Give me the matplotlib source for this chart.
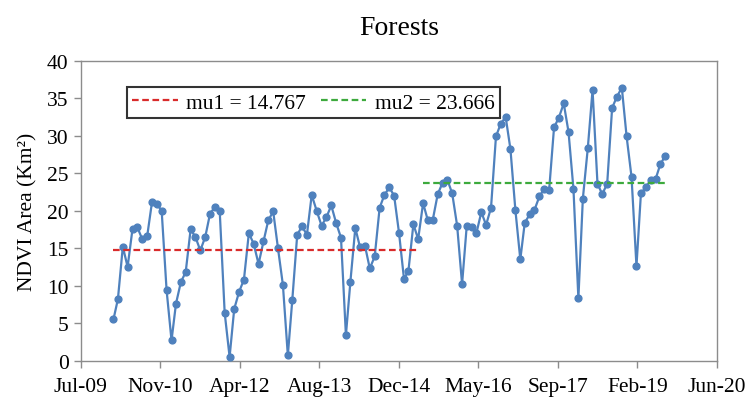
import matplotlib
matplotlib.use("Agg")
import matplotlib.pyplot as plt
import matplotlib.dates as mdates
import pandas as pd
import numpy as np

plt.rcParams['font.family'] = ['Liberation Serif', 'DejaVu Serif']

# monthly NDVI forest area, Feb 2010 .. Aug 2019
start_month = "2010-02-01"
area = [
    5.5, 8.2, 15.2, 12.5, 17.6, 17.8, 16.2, 16.6, 21.1, 20.9, 20.0, 9.4, 2.7, 7.6, 10.5,
    11.8, 17.5, 16.5, 14.7, 16.5, 19.6, 20.5, 19.9, 6.4, 0.5, 6.9, 9.2, 10.8, 17.0, 15.6, 12.9, 15.9,
    18.7, 19.9, 15.0, 10.1, 0.7, 8.1, 16.8, 17.9, 16.8, 22.1, 20.0, 18.0, 19.1, 20.7, 18.4, 16.4,
    3.4, 10.5, 17.7, 15.1, 15.3, 12.3, 13.9, 20.4, 22.1, 23.1, 22.0, 17.0, 10.9, 12.0, 18.2, 16.2,
    21.0, 18.7, 18.8, 22.2, 23.7, 24.1, 22.3, 18.0, 10.2, 17.9, 17.8, 17.0, 19.8, 18.1, 20.4,
    29.9, 31.6, 32.5, 28.2, 20.1, 13.5, 18.4, 19.5, 20.1, 21.9, 22.9, 22.7, 31.1, 32.4, 34.3, 30.5, 22.9, 8.3, 21.6,
    28.3, 36.1, 23.6, 22.2, 23.6, 33.7, 35.2, 36.4, 29.9, 24.5, 12.6, 22.3, 23.1, 24.1, 24.2, 26.2, 27.3,
]
dates = pd.date_range(start_month, periods=len(area), freq="MS")

# change point: first regime is the first 64 months
split = 64
mu1 = 14.767
mu2 = 23.666

fig = plt.figure(figsize=(7.51, 4.02), dpi=100)
ax = fig.add_axes([0.1072, 0.1003, 0.8475, 0.7462])

ax.plot(dates, area, color="#4F81BD", lw=1.6, marker="o", ms=4.9, zorder=3)
ax.plot(dates[:split], [mu1] * split, color="#D92B2B", lw=1.6,
        ls=(0, (3, 1.6)), label="mu1 = 14.767", zorder=4)
ax.plot(dates[split:], [mu2] * (len(area) - split), color="#3DAA3D", lw=1.6,
        ls=(0, (3, 1.6)), label="mu2 = 23.666", zorder=4)

# date axis: 500 day steps
x0 = pd.Timestamp("2009-07-09")
ticks = [x0 + pd.Timedelta(days=500 * i) for i in range(9)]
ax.set_xlim(ticks[0], ticks[-1])
ax.set_xticks(ticks)
ax.xaxis.set_major_formatter(mdates.DateFormatter("%b-%y"))
ax.set_ylim(0, 40)
ax.set_yticks(np.arange(0, 41, 5))

for s in ax.spines.values():
    s.set_color("#8C8C8C")
    s.set_linewidth(1.0)
ax.tick_params(axis="both", colors="#8C8C8C", labelcolor="black",
               labelsize=15.5, length=5, width=1.0, direction="out")
ax.tick_params(axis="x", pad=7)

ax.set_ylabel("NDVI Area (Km²)", fontsize=15.5, labelpad=7)
ax.set_title("Forests", fontsize=20, pad=19)

leg = ax.legend(loc="upper left", bbox_to_anchor=(0.073, 0.912), borderaxespad=0,
                ncol=2, fontsize=15.5, frameon=True, fancybox=False,
                handlelength=2.1, handletextpad=0.4, columnspacing=0.7,
                borderpad=0.25)
leg.get_frame().set_edgecolor("black")
leg.get_frame().set_linewidth(1.5)

fig.savefig("out.png", dpi=100)
